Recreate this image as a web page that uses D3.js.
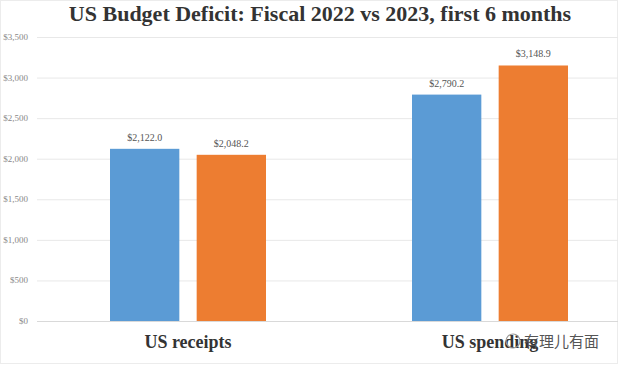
<!DOCTYPE html>
<html>
<head>
<meta charset="UTF-8">
<title>US Budget Deficit</title>
<script src="https://cdn.jsdelivr.net/npm/d3@7"></script>
<style>
  body { margin: 0; background: #fff; }
  text { font-family: "Liberation Serif", "DejaVu Serif", serif; }
</style>
</head>
<body>
<script>
var w = 618;
var h = 367;

// data
var categories = ["US receipts", "US spending"];
var years = ["2022", "2023"];
var values2022 = [2122.0, 2790.2];
var values2023 = [2048.2, 3148.9];
var yTicks = [0, 500, 1000, 1500, 2000, 2500, 3000, 3500];
var colors = ["#5b9bd5", "#ed7d31"];

var svg = d3.select("body").append("svg")
    .attr("width", w)
    .attr("height", h);

// faint frame
svg.append("rect").attr("x", 0.5).attr("y", 0.5).attr("width", w - 1).attr("height", h - 4)
    .attr("fill", "none").attr("stroke", "#ececec");

var yScale = d3.scaleLinear().domain([0, 3500]).range([321, 37]);
var xScale = d3.scaleBand().domain(categories).range([37, 641]);
var inner = d3.scaleBand().domain(years).range([-78, 78]).paddingInner(0.2);

// grid
svg.append("g").selectAll("line")
    .data(yTicks).enter().append("line")
    .attr("x1", 37).attr("x2", w)
    .attr("y1", function(d) { return yScale(d) + 0.5; })
    .attr("y2", function(d) { return yScale(d) + 0.5; })
    .attr("stroke", function(d) { return d == 0 ? "#d9d9d9" : "#e8e8e8"; })
    .attr("stroke-width", 1);

var fmt = d3.format(",");
svg.append("g").selectAll("text")
    .data(yTicks).enter().append("text")
    .attr("x", 28)
    .attr("y", function(d) { return yScale(d) + 3; })
    .attr("text-anchor", "end")
    .attr("font-size", 9)
    .attr("fill", "#888")
    .text(function(d) { return "$" + fmt(d); });

// bars
var rows = categories.map(function(c, i) {
  return [{cat: c, year: "2022", v: values2022[i]}, {cat: c, year: "2023", v: values2023[i]}];
});
var flat = d3.merge(rows);

svg.append("g").selectAll("rect")
    .data(flat).enter().append("rect")
    .attr("x", function(d) { return xScale(d.cat) + xScale.bandwidth() / 2 + inner(d.year); })
    .attr("width", inner.bandwidth())
    .attr("y", function(d) { return yScale(d.v); })
    .attr("height", function(d) { return yScale(0) - yScale(d.v); })
    .attr("fill", function(d) { return colors[years.indexOf(d.year)]; });

svg.append("g").selectAll("text")
    .data(flat).enter().append("text")
    .attr("x", function(d) { return xScale(d.cat) + xScale.bandwidth() / 2 + inner(d.year) + inner.bandwidth() / 2; })
    .attr("y", function(d) { return yScale(d.v) - 8; })
    .attr("text-anchor", "middle")
    .attr("font-size", 10)
    .attr("fill", "#555")
    .text(function(d) { return "$" + d3.format(",.1f")(d.v); });

// category labels
svg.append("g").selectAll("text")
    .data(categories).enter().append("text")
    .attr("x", function(d) { return xScale(d) + xScale.bandwidth() / 2; })
    .attr("y", 348)
    .attr("text-anchor", "middle")
    .attr("font-size", 18)
    .attr("font-weight", "bold")
    .attr("fill", "#333")
    .text(function(d) { return d; });

// title
svg.append("text")
    .attr("x", 320).attr("y", 21)
    .attr("text-anchor", "middle")
    .attr("font-size", 22)
    .attr("font-weight", "bold")
    .attr("fill", "#333")
    .text("US Budget Deficit: Fiscal 2022 vs 2023, first 6 months");

// watermark
svg.append("circle").attr("cx", 513).attr("cy", 341).attr("r", 7)
    .attr("fill", "none").attr("stroke", "#999").attr("stroke-width", 1.2);
svg.append("text")
    .attr("x", 524).attr("y", 347)
    .attr("font-size", 15)
    .attr("fill", "#555")
    .style("font-family", "'Noto Sans CJK SC'")
    .text("有理儿有面");
</script>
</body>
</html>
